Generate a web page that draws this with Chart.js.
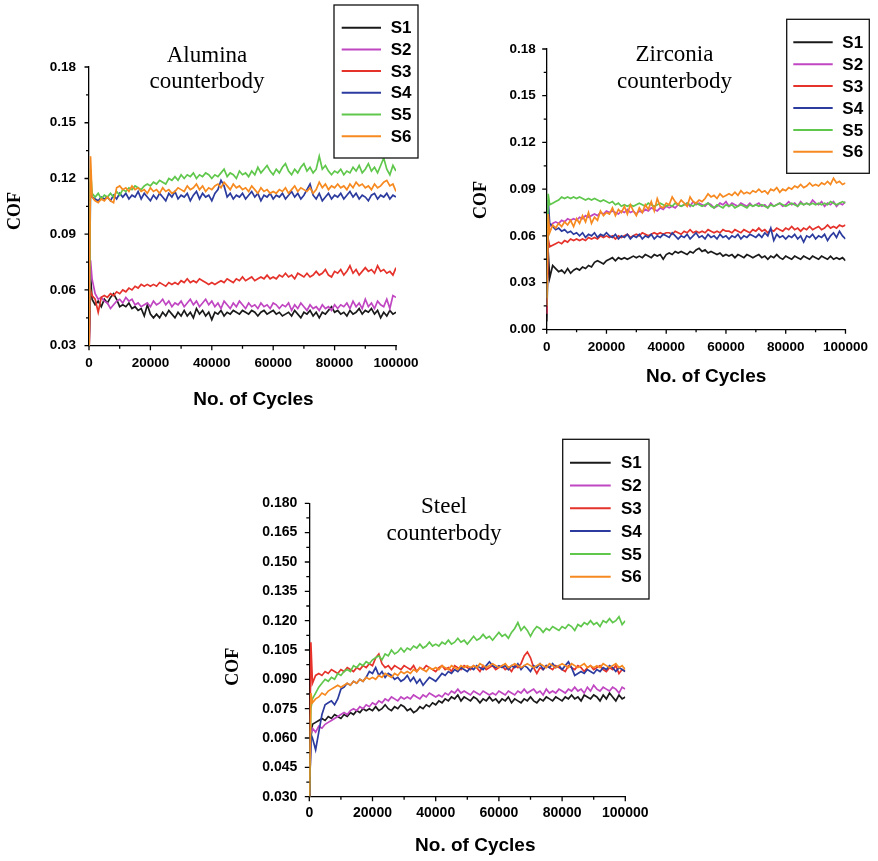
<!DOCTYPE html>
<html>
<head>
<meta charset="utf-8">
<title>COF vs. number of cycles</title>
<script src="https://cdn.jsdelivr.net/npm/chart.js@4.4.1/dist/chart.umd.min.js"></script>
<style>
  html, body { margin: 0; padding: 0; background: #fff; }
  #page { position: relative; width: 878px; height: 861px; overflow: hidden; }
  #page canvas { position: absolute; }
</style>
</head>
<body>
<div id="page">
  <canvas id="alumina" width="430" height="420" style="left:0;top:0"></canvas>
  <canvas id="zirconia" width="438" height="400" style="left:440px;top:0"></canvas>
  <canvas id="steel" width="440" height="431" style="left:220px;top:430px"></canvas>
</div>
<script>
// sampling positions (cycles) shared by every curve
const cycles = [0, 500, 1000,
  2000, 3000, 4000, 5000, 6000, 7000, 8000, 9000, 10000,
  11000, 12000, 13000, 14000, 15000, 16000, 17000, 18000, 19000, 20000,
  21000, 22000, 23000, 24000, 25000, 26000, 27000, 28000, 29000, 30000,
  31000, 32000, 33000, 34000, 35000, 36000, 37000, 38000, 39000, 40000,
  41000, 42000, 43000, 44000, 45000, 46000, 47000, 48000, 49000, 50000,
  51000, 52000, 53000, 54000, 55000, 56000, 57000, 58000, 59000, 60000,
  61000, 62000, 63000, 64000, 65000, 66000, 67000, 68000, 69000, 70000,
  71000, 72000, 73000, 74000, 75000, 76000, 77000, 78000, 79000, 80000,
  81000, 82000, 83000, 84000, 85000, 86000, 87000, 88000, 89000, 90000,
  91000, 92000, 93000, 94000, 95000, 96000, 97000, 98000, 99000, 100000];

const seriesNames = ['S1', 'S2', 'S3', 'S4', 'S5', 'S6'];
const seriesColors = ['#1a1a1a', '#c046c2', '#e5322b', '#2b3b9e', '#5fc74b', '#f6891f'];

const xTicks = [0, 20000, 40000, 60000, 80000, 100000];
const yTicksTwoDec = [0.03, 0.06, 0.09, 0.12, 0.15, 0.18];

// ---- Alumina counterbody ----
const aluminaS1 = [0.025, 0.068, 0.055,
  0.052, 0.054, 0.051, 0.055, 0.053, 0.056, 0.058, 0.055, 0.051,
  0.052, 0.051, 0.053, 0.050, 0.051, 0.049, 0.050, 0.046, 0.052, 0.047,
  0.045, 0.047, 0.045, 0.048, 0.046, 0.049, 0.047, 0.045, 0.048, 0.046,
  0.049, 0.046, 0.048, 0.045, 0.050, 0.047, 0.049, 0.046, 0.048, 0.044,
  0.048, 0.047, 0.049, 0.046, 0.048, 0.047, 0.049, 0.048, 0.047, 0.049,
  0.048, 0.047, 0.049, 0.048, 0.046, 0.048, 0.049, 0.047, 0.048, 0.049,
  0.047, 0.048, 0.046, 0.047, 0.048, 0.046, 0.049, 0.047, 0.045, 0.048,
  0.047, 0.049, 0.046, 0.048, 0.045, 0.048, 0.047, 0.049, 0.051, 0.048,
  0.049, 0.047, 0.048, 0.046, 0.049, 0.047, 0.048, 0.050, 0.047, 0.049,
  0.048, 0.050, 0.047, 0.049, 0.045, 0.048, 0.046, 0.049, 0.047, 0.048];
const aluminaS2 = [0.025, 0.076, 0.066,
  0.058, 0.055, 0.056, 0.054, 0.053, 0.050, 0.052, 0.054, 0.055,
  0.053, 0.056, 0.054, 0.055, 0.052, 0.053, 0.051, 0.052, 0.053, 0.051,
  0.054, 0.052, 0.053, 0.055, 0.052, 0.054, 0.051, 0.053, 0.052, 0.054,
  0.051, 0.053, 0.055, 0.052, 0.054, 0.051, 0.053, 0.055, 0.052, 0.054,
  0.051, 0.053, 0.050, 0.054, 0.052, 0.050, 0.053, 0.051, 0.054, 0.052,
  0.050, 0.053, 0.051, 0.052, 0.050, 0.053, 0.051, 0.052, 0.050, 0.053,
  0.052, 0.050, 0.052, 0.051, 0.053, 0.049, 0.052, 0.050, 0.053, 0.051,
  0.049, 0.052, 0.050, 0.051, 0.049, 0.052, 0.050, 0.051, 0.049, 0.052,
  0.050, 0.052, 0.051, 0.053, 0.050, 0.054, 0.051, 0.053, 0.050, 0.055,
  0.051, 0.053, 0.050, 0.054, 0.052, 0.051, 0.055, 0.050, 0.057, 0.056];
const aluminaS3 = [0.025, 0.060, 0.057,
  0.055, 0.048, 0.056, 0.057, 0.056, 0.058, 0.057, 0.059, 0.058,
  0.060, 0.059, 0.061, 0.060, 0.062, 0.061, 0.063, 0.062, 0.063, 0.062,
  0.063, 0.062, 0.064, 0.063, 0.062, 0.064, 0.063, 0.064, 0.063, 0.065,
  0.064, 0.066, 0.064, 0.065, 0.064, 0.066, 0.065, 0.064, 0.063, 0.064,
  0.063, 0.064, 0.065, 0.064, 0.066, 0.065, 0.064, 0.066, 0.065, 0.067,
  0.065, 0.066, 0.067, 0.065, 0.066, 0.067, 0.066, 0.068, 0.066, 0.067,
  0.066, 0.068, 0.067, 0.069, 0.067, 0.068, 0.066, 0.069, 0.068, 0.067,
  0.069, 0.067, 0.068, 0.070, 0.068, 0.069, 0.071, 0.068, 0.067, 0.070,
  0.069, 0.071, 0.068, 0.070, 0.073, 0.069, 0.071, 0.068, 0.070, 0.072,
  0.070, 0.071, 0.069, 0.073, 0.070, 0.071, 0.069, 0.070, 0.068, 0.072];
const aluminaS4 = [0.025, 0.118, 0.110,
  0.109, 0.108, 0.110, 0.109, 0.110, 0.108, 0.111, 0.109, 0.112,
  0.110, 0.112, 0.109, 0.111, 0.110, 0.113, 0.109, 0.112, 0.110, 0.108,
  0.111, 0.109, 0.112, 0.110, 0.108, 0.112, 0.110, 0.113, 0.109, 0.111,
  0.110, 0.112, 0.108, 0.111, 0.113, 0.109, 0.112, 0.110, 0.111, 0.108,
  0.112, 0.114, 0.119, 0.116, 0.110, 0.112, 0.109, 0.111, 0.110, 0.112,
  0.109, 0.111, 0.113, 0.110, 0.112, 0.108, 0.111, 0.110, 0.112, 0.109,
  0.111, 0.110, 0.112, 0.109, 0.111, 0.113, 0.110, 0.112, 0.109, 0.111,
  0.114, 0.117, 0.111, 0.109, 0.112, 0.108, 0.110, 0.112, 0.109, 0.111,
  0.110, 0.112, 0.109, 0.111, 0.113, 0.110, 0.112, 0.109, 0.111, 0.110,
  0.108, 0.111, 0.112, 0.109, 0.111, 0.110, 0.112, 0.109, 0.111, 0.110];
const aluminaS5 = [0.025, 0.125, 0.112,
  0.110, 0.112, 0.109, 0.111, 0.110, 0.112, 0.110, 0.113, 0.111,
  0.114, 0.113, 0.115, 0.114, 0.116, 0.115, 0.114, 0.116, 0.117, 0.116,
  0.118, 0.117, 0.119, 0.118, 0.117, 0.120, 0.119, 0.121, 0.119, 0.122,
  0.120, 0.122, 0.121, 0.123, 0.120, 0.122, 0.121, 0.123, 0.122, 0.120,
  0.122, 0.121, 0.123, 0.125, 0.121, 0.123, 0.122, 0.120, 0.124, 0.122,
  0.123, 0.121, 0.124, 0.122, 0.126, 0.123, 0.125, 0.127, 0.124, 0.122,
  0.125, 0.123, 0.126, 0.128, 0.124, 0.122, 0.125, 0.123, 0.126, 0.128,
  0.124, 0.126, 0.123, 0.125, 0.132, 0.125, 0.127, 0.124, 0.122, 0.124,
  0.123, 0.125, 0.122, 0.124, 0.123, 0.126, 0.124, 0.127, 0.123, 0.125,
  0.128, 0.124, 0.126, 0.123, 0.127, 0.131, 0.125, 0.122, 0.127, 0.124];
const aluminaS6 = [0.025, 0.132, 0.110,
  0.108, 0.107, 0.109, 0.108, 0.110, 0.108, 0.107, 0.115, 0.116,
  0.114, 0.115, 0.113, 0.116, 0.114, 0.115, 0.113, 0.114, 0.112, 0.115,
  0.113, 0.114, 0.112, 0.115, 0.113, 0.114, 0.112, 0.113, 0.115, 0.114,
  0.113, 0.116, 0.114, 0.115, 0.117, 0.114, 0.116, 0.113, 0.115, 0.114,
  0.116, 0.117, 0.115, 0.118, 0.116, 0.114, 0.117, 0.115, 0.116, 0.114,
  0.115, 0.113, 0.116, 0.114, 0.112, 0.115, 0.113, 0.114, 0.112, 0.113,
  0.112, 0.114, 0.113, 0.115, 0.112, 0.114, 0.116, 0.113, 0.115, 0.114,
  0.113, 0.115, 0.112, 0.114, 0.118, 0.115, 0.117, 0.114, 0.116, 0.115,
  0.117, 0.115, 0.116, 0.114, 0.117, 0.115, 0.118, 0.116, 0.117, 0.115,
  0.116, 0.114, 0.117, 0.115, 0.116, 0.118, 0.119, 0.116, 0.117, 0.113];

// ---- Zirconia counterbody ----
const zirconiaS1 = [0.005, 0.050, 0.033,
  0.041, 0.039, 0.037, 0.038, 0.036, 0.039, 0.036, 0.038, 0.039,
  0.038, 0.040, 0.039, 0.041, 0.040, 0.043, 0.044, 0.043, 0.042, 0.044,
  0.045, 0.046, 0.044, 0.046, 0.045, 0.046, 0.045, 0.046, 0.047, 0.046,
  0.047, 0.046, 0.048, 0.047, 0.046, 0.048, 0.047, 0.048, 0.045, 0.048,
  0.049, 0.048, 0.050, 0.049, 0.050, 0.049, 0.048, 0.050, 0.049, 0.051,
  0.052, 0.050, 0.051, 0.049, 0.050, 0.049, 0.048, 0.049, 0.047, 0.048,
  0.047, 0.048, 0.046, 0.048, 0.047, 0.046, 0.048, 0.047, 0.046, 0.047,
  0.048, 0.046, 0.047, 0.045, 0.047, 0.046, 0.048, 0.046, 0.045, 0.047,
  0.046, 0.045, 0.047, 0.046, 0.045, 0.047, 0.046, 0.045, 0.047, 0.046,
  0.045, 0.047, 0.046, 0.045, 0.047, 0.045, 0.046, 0.045, 0.046, 0.044];
const zirconiaS2 = [0.010, 0.070, 0.066,
  0.068, 0.069, 0.068, 0.070, 0.069, 0.071, 0.070, 0.071, 0.070,
  0.072, 0.071, 0.073, 0.072, 0.073, 0.074, 0.073, 0.075, 0.074, 0.076,
  0.075, 0.076, 0.075, 0.074, 0.076, 0.075, 0.077, 0.075, 0.076, 0.074,
  0.076, 0.075, 0.077, 0.076, 0.078, 0.077, 0.076, 0.078, 0.077, 0.079,
  0.078, 0.079, 0.078, 0.080, 0.079, 0.080, 0.081, 0.079, 0.082, 0.080,
  0.081, 0.080, 0.079, 0.081, 0.080, 0.078, 0.079, 0.081, 0.080, 0.082,
  0.079, 0.081, 0.080, 0.079, 0.081, 0.080, 0.079, 0.081, 0.079, 0.080,
  0.081, 0.079, 0.080, 0.078, 0.081, 0.079, 0.080, 0.081, 0.079, 0.080,
  0.082, 0.080, 0.081, 0.079, 0.082, 0.080, 0.081, 0.080, 0.083, 0.081,
  0.080, 0.082, 0.079, 0.081, 0.080, 0.082, 0.079, 0.081, 0.080, 0.082];
const zirconiaS3 = [0.010, 0.058, 0.053,
  0.054, 0.055, 0.056, 0.055, 0.057, 0.056, 0.058, 0.057, 0.058,
  0.057, 0.058, 0.057, 0.059, 0.058, 0.059, 0.058, 0.060, 0.059, 0.060,
  0.059, 0.060, 0.058, 0.060, 0.059, 0.060, 0.061, 0.059, 0.060, 0.061,
  0.060, 0.062, 0.061, 0.060, 0.061, 0.062, 0.061, 0.062, 0.061, 0.062,
  0.062, 0.061, 0.063, 0.062, 0.061, 0.063, 0.062, 0.064, 0.062, 0.063,
  0.062, 0.063, 0.062, 0.064, 0.063, 0.062, 0.063, 0.062, 0.064, 0.063,
  0.063, 0.062, 0.064, 0.063, 0.062, 0.064, 0.063, 0.062, 0.064, 0.063,
  0.065, 0.063, 0.064, 0.062, 0.064, 0.063, 0.065, 0.064, 0.063, 0.065,
  0.064, 0.066, 0.064, 0.065, 0.063, 0.065, 0.064, 0.066, 0.064, 0.065,
  0.066, 0.064, 0.065, 0.067, 0.065, 0.066, 0.065, 0.067, 0.066, 0.067];
const zirconiaS4 = [0.015, 0.083, 0.068,
  0.066, 0.064, 0.065, 0.063, 0.064, 0.062, 0.063, 0.061, 0.062,
  0.060, 0.062, 0.059, 0.061, 0.060, 0.062, 0.059, 0.061, 0.060, 0.062,
  0.060, 0.059, 0.061, 0.058, 0.060, 0.059, 0.061, 0.058, 0.060, 0.059,
  0.061, 0.058, 0.060, 0.059, 0.061, 0.058, 0.060, 0.059, 0.061, 0.060,
  0.059, 0.062, 0.060, 0.058, 0.060, 0.059, 0.061, 0.058, 0.060, 0.062,
  0.059, 0.060, 0.058, 0.061, 0.059, 0.060, 0.058, 0.061, 0.059, 0.060,
  0.058, 0.060, 0.059, 0.061, 0.058, 0.060, 0.059, 0.061, 0.060, 0.059,
  0.061, 0.059, 0.062, 0.060, 0.065, 0.057, 0.061, 0.059, 0.060, 0.058,
  0.060, 0.059, 0.061, 0.058, 0.060, 0.056, 0.060, 0.059, 0.061, 0.058,
  0.060, 0.059, 0.061, 0.057, 0.060, 0.062, 0.059, 0.063, 0.060, 0.058];
const zirconiaS5 = [0.020, 0.087, 0.080,
  0.081, 0.082, 0.083, 0.085, 0.084, 0.085, 0.084, 0.085, 0.084,
  0.085, 0.084, 0.083, 0.084, 0.083, 0.084, 0.083, 0.082, 0.083, 0.082,
  0.081, 0.082, 0.080, 0.081, 0.079, 0.080, 0.079, 0.080, 0.079, 0.080,
  0.081, 0.080, 0.079, 0.081, 0.080, 0.079, 0.080, 0.081, 0.080, 0.079,
  0.080, 0.079, 0.081, 0.080, 0.079, 0.080, 0.081, 0.080, 0.079, 0.081,
  0.080, 0.079, 0.080, 0.081, 0.079, 0.078, 0.080, 0.079, 0.078, 0.080,
  0.079, 0.080, 0.078, 0.079, 0.080, 0.079, 0.078, 0.080, 0.079, 0.080,
  0.079, 0.080, 0.079, 0.078, 0.080, 0.079, 0.080, 0.081, 0.080, 0.079,
  0.080, 0.081, 0.080, 0.079, 0.081, 0.080, 0.081, 0.080, 0.081, 0.080,
  0.081, 0.080, 0.081, 0.080, 0.082, 0.081, 0.080, 0.081, 0.082, 0.081];
const zirconiaS6 = [0.015, 0.074, 0.062,
  0.067, 0.065, 0.068, 0.066, 0.069, 0.067, 0.070, 0.066, 0.071,
  0.068, 0.073, 0.069, 0.075, 0.068, 0.072, 0.070, 0.076, 0.073, 0.075,
  0.074, 0.078, 0.073, 0.077, 0.075, 0.079, 0.074, 0.080, 0.076, 0.073,
  0.078, 0.075, 0.080, 0.077, 0.082, 0.076, 0.084, 0.079, 0.078, 0.081,
  0.080, 0.085, 0.082, 0.080, 0.083, 0.081, 0.079, 0.085, 0.082, 0.081,
  0.083, 0.082, 0.084, 0.087, 0.085, 0.086, 0.084, 0.087, 0.085, 0.086,
  0.087, 0.086, 0.088, 0.086, 0.089, 0.087, 0.088, 0.087, 0.089, 0.088,
  0.090, 0.088, 0.089, 0.087, 0.090, 0.089, 0.091, 0.088, 0.090, 0.089,
  0.091, 0.090, 0.092, 0.091, 0.093, 0.091, 0.092, 0.094, 0.092, 0.093,
  0.092, 0.094, 0.093, 0.095, 0.093, 0.097, 0.094, 0.095, 0.093, 0.094];

// ---- Steel counterbody ----
const steelS1 = [0.025, 0.060, 0.067,
  0.068, 0.069, 0.070, 0.069, 0.071, 0.070, 0.072, 0.071, 0.070,
  0.072, 0.071, 0.073, 0.072, 0.074, 0.073, 0.075, 0.074, 0.075, 0.074,
  0.076, 0.074, 0.075, 0.077, 0.075, 0.074, 0.076, 0.075, 0.077, 0.076,
  0.074, 0.075, 0.073, 0.074, 0.076, 0.075, 0.077, 0.076, 0.078, 0.077,
  0.079, 0.078, 0.080, 0.079, 0.081, 0.080, 0.082, 0.079, 0.081, 0.080,
  0.079, 0.081, 0.080, 0.078, 0.080, 0.079, 0.081, 0.079, 0.080, 0.078,
  0.080, 0.079, 0.081, 0.078, 0.080, 0.079, 0.078, 0.080, 0.079, 0.081,
  0.079, 0.078, 0.080, 0.079, 0.081, 0.080, 0.079, 0.081, 0.080, 0.079,
  0.081, 0.080, 0.082, 0.080, 0.081, 0.079, 0.082, 0.081, 0.080, 0.082,
  0.081, 0.079, 0.082, 0.080, 0.083, 0.081, 0.079, 0.082, 0.080, 0.081];
const steelS2 = [0.025, 0.062, 0.065,
  0.063, 0.066, 0.065, 0.067, 0.068, 0.069, 0.070, 0.071, 0.072,
  0.073, 0.072, 0.074, 0.075, 0.074, 0.076, 0.075, 0.077, 0.076, 0.078,
  0.077, 0.079, 0.078, 0.080, 0.079, 0.081, 0.080, 0.079, 0.081, 0.080,
  0.081, 0.080, 0.082, 0.081, 0.080, 0.082, 0.081, 0.083, 0.082, 0.081,
  0.082, 0.081, 0.083, 0.082, 0.084, 0.083, 0.085, 0.083, 0.084, 0.083,
  0.082, 0.084, 0.083, 0.082, 0.084, 0.083, 0.082, 0.083, 0.082, 0.084,
  0.083, 0.082, 0.084, 0.083, 0.082, 0.084, 0.083, 0.085, 0.083, 0.084,
  0.085, 0.083, 0.084, 0.082, 0.085, 0.083, 0.084, 0.083, 0.085, 0.084,
  0.083, 0.085, 0.084, 0.086, 0.084, 0.085, 0.083, 0.086, 0.084, 0.087,
  0.085, 0.084, 0.086, 0.085, 0.084, 0.086, 0.085, 0.083, 0.086, 0.085];
const steelS3 = [0.025, 0.109, 0.088,
  0.092, 0.093, 0.092, 0.094, 0.093, 0.095, 0.094, 0.093, 0.095,
  0.094, 0.096, 0.095, 0.094, 0.096, 0.095, 0.097, 0.096, 0.098, 0.097,
  0.101, 0.103, 0.098, 0.096, 0.097, 0.095, 0.097, 0.096, 0.095, 0.097,
  0.096, 0.095, 0.097, 0.094, 0.096, 0.095, 0.097, 0.096, 0.095, 0.094,
  0.096, 0.097, 0.095, 0.096, 0.094, 0.097, 0.096, 0.095, 0.097, 0.096,
  0.095, 0.097, 0.096, 0.094, 0.097, 0.095, 0.096, 0.097, 0.095, 0.096,
  0.097, 0.095, 0.096, 0.094, 0.097, 0.096, 0.098, 0.102, 0.104, 0.101,
  0.096, 0.093, 0.096, 0.095, 0.097, 0.096, 0.095, 0.097, 0.096, 0.095,
  0.094, 0.097, 0.096, 0.095, 0.097, 0.096, 0.094, 0.096, 0.097, 0.095,
  0.096, 0.097, 0.095, 0.094, 0.096, 0.095, 0.097, 0.093, 0.095, 0.094];
const steelS4 = [0.025, 0.062, 0.060,
  0.054, 0.063, 0.072, 0.077, 0.078, 0.079, 0.077, 0.080, 0.085,
  0.086, 0.088, 0.087, 0.089, 0.088, 0.090, 0.089, 0.091, 0.094, 0.093,
  0.096, 0.092, 0.094, 0.091, 0.093, 0.092, 0.090, 0.091, 0.089, 0.090,
  0.092, 0.089, 0.091, 0.088, 0.090, 0.087, 0.089, 0.091, 0.090, 0.089,
  0.091, 0.093, 0.092, 0.094, 0.093, 0.095, 0.094, 0.096, 0.095, 0.094,
  0.096, 0.095, 0.097, 0.096, 0.095, 0.097, 0.099, 0.097, 0.096, 0.097,
  0.096, 0.097, 0.095, 0.097, 0.096, 0.098, 0.095, 0.097, 0.096, 0.094,
  0.097, 0.096, 0.098, 0.095, 0.097, 0.096, 0.098, 0.096, 0.097, 0.095,
  0.097, 0.099, 0.096, 0.092, 0.093, 0.094, 0.093, 0.095, 0.094, 0.093,
  0.095, 0.094, 0.096, 0.095, 0.097, 0.096, 0.094, 0.096, 0.095, 0.094];
const steelS5 = [0.025, 0.075, 0.080,
  0.083, 0.086, 0.088, 0.090, 0.089, 0.091, 0.090, 0.093, 0.092,
  0.094, 0.095, 0.094, 0.097, 0.096, 0.098, 0.097, 0.099, 0.098, 0.100,
  0.101, 0.102, 0.100, 0.103, 0.102, 0.105, 0.103, 0.104, 0.106, 0.104,
  0.106, 0.105, 0.107, 0.106, 0.108, 0.106, 0.107, 0.109, 0.107, 0.108,
  0.107, 0.109, 0.108, 0.110, 0.108, 0.109, 0.111, 0.109, 0.110, 0.108,
  0.110, 0.112, 0.110, 0.111, 0.113, 0.111, 0.112, 0.110, 0.112, 0.114,
  0.112, 0.113, 0.111, 0.114, 0.116, 0.119, 0.115, 0.117, 0.115, 0.112,
  0.115, 0.117, 0.116, 0.114, 0.116, 0.115, 0.117, 0.116, 0.115, 0.117,
  0.116, 0.118, 0.117, 0.115, 0.118, 0.117, 0.119, 0.118, 0.120, 0.118,
  0.119, 0.117, 0.120, 0.119, 0.121, 0.119, 0.120, 0.122, 0.118, 0.120];
const steelS6 = [0.025, 0.083, 0.078,
  0.080, 0.081, 0.083, 0.082, 0.084, 0.085, 0.086, 0.087, 0.086,
  0.087, 0.088, 0.087, 0.089, 0.088, 0.090, 0.089, 0.091, 0.090, 0.091,
  0.090, 0.092, 0.091, 0.093, 0.092, 0.091, 0.093, 0.092, 0.094, 0.093,
  0.094, 0.093, 0.095, 0.094, 0.096, 0.095, 0.094, 0.096, 0.095, 0.096,
  0.095, 0.097, 0.096, 0.095, 0.097, 0.096, 0.095, 0.097, 0.096, 0.097,
  0.096, 0.097, 0.096, 0.098, 0.097, 0.096, 0.097, 0.098, 0.097, 0.096,
  0.097, 0.098, 0.096, 0.097, 0.098, 0.097, 0.096, 0.097, 0.098, 0.097,
  0.096, 0.097, 0.098, 0.097, 0.096, 0.098, 0.097, 0.096, 0.097, 0.098,
  0.097, 0.096, 0.098, 0.097, 0.096, 0.097, 0.098, 0.096, 0.097, 0.096,
  0.097, 0.096, 0.098, 0.097, 0.096, 0.097, 0.098, 0.096, 0.097, 0.095];

const SANS = '"Liberation Sans", Arial, sans-serif';
const SERIF = '"Liberation Serif", "Times New Roman", serif';

// Draws outward tick marks (with minor ticks), the axis titles,
// the two-line panel caption and the boxed legend.
const panelDecor = {
  id: 'panelDecor',
  afterDraw(chart, args, o) {
    const ctx = chart.ctx;
    const area = chart.chartArea;
    const xs = chart.scales.x;
    const ys = chart.scales.y;
    ctx.save();

    ctx.strokeStyle = '#000';
    ctx.lineWidth = 1.3;
    ctx.beginPath();
    const xv = xs.ticks.map(t => t.value);
    xv.forEach((v, i) => {
      const px = xs.getPixelForValue(v);
      ctx.moveTo(px, area.bottom);
      ctx.lineTo(px, area.bottom + 4.5);
      if (i < xv.length - 1) {
        const m = xs.getPixelForValue((v + xv[i + 1]) / 2);
        ctx.moveTo(m, area.bottom);
        ctx.lineTo(m, area.bottom + 3);
      }
    });
    const yv = ys.ticks.map(t => t.value);
    yv.forEach((v, i) => {
      const py = ys.getPixelForValue(v);
      ctx.moveTo(area.left, py);
      ctx.lineTo(area.left - 4.5, py);
      if (i < yv.length - 1) {
        const m = ys.getPixelForValue((v + yv[i + 1]) / 2);
        ctx.moveTo(area.left, m);
        ctx.lineTo(area.left - 3, m);
      }
    });
    ctx.stroke();

    ctx.fillStyle = '#000';
    // y title
    ctx.save();
    ctx.translate(o.cof.x, o.cof.y);
    ctx.rotate(-Math.PI / 2);
    ctx.font = 'bold 18px ' + SERIF;
    ctx.textAlign = 'center';
    ctx.textBaseline = 'middle';
    ctx.fillText('COF', 0, 0);
    ctx.restore();

    // x title
    ctx.font = 'bold 19px ' + SANS;
    ctx.textAlign = 'center';
    ctx.textBaseline = 'middle';
    ctx.fillText('No. of Cycles', (area.left + area.right) / 2 + o.xTitle.shift, o.xTitle.y);

    // caption
    ctx.font = '23px ' + SERIF;
    ctx.textBaseline = 'alphabetic';
    o.caption.lines.forEach((t, i) => {
      ctx.fillText(t, o.caption.x, o.caption.y[i]);
    });

    // legend
    const L = o.legend;
    ctx.fillStyle = '#fff';
    ctx.fillRect(L.x, L.y, L.w, L.h);
    ctx.strokeStyle = '#111';
    ctx.lineWidth = 1.3;
    ctx.strokeRect(L.x, L.y, L.w, L.h);
    ctx.font = 'bold 17px ' + SANS;
    ctx.textAlign = 'left';
    ctx.textBaseline = 'middle';
    chart.data.datasets.forEach((ds, i) => {
      const ry = L.row0 + i * L.rowGap;
      ctx.strokeStyle = ds.borderColor;
      ctx.lineWidth = 2;
      ctx.beginPath();
      ctx.moveTo(L.line0, ry);
      ctx.lineTo(L.line1, ry);
      ctx.stroke();
      ctx.fillStyle = '#000';
      ctx.fillText(ds.label, L.textX, ry + 1);
    });
    ctx.restore();
  }
};

function makePanel(canvasId, series, p) {
  const datasets = series.map((vals, i) => ({
    label: seriesNames[i],
    data: vals.map((v, k) => ({ x: cycles[k], y: v })),
    borderColor: seriesColors[i],
    borderWidth: 1.7,
    pointRadius: 0,
    tension: 0,
    fill: false,
    order: series.length - i
  }));
  return new Chart(document.getElementById(canvasId), {
    type: 'line',
    data: { datasets },
    plugins: [panelDecor],
    options: {
      responsive: false,
      animation: false,
      events: [],
      layout: { padding: p.padding },
      scales: {
        x: {
          type: 'linear',
          min: 0,
          max: 100000,
          afterFit: s => { s.height = p.xHeight; },
          afterBuildTicks: s => { s.ticks = xTicks.map(v => ({ value: v })); },
          grid: { display: false, drawTicks: false },
          border: { display: true, color: '#000', width: 1.3 },
          ticks: {
            padding: p.xPad,
            maxRotation: 0,
            autoSkip: false,
            color: '#000',
            font: { family: SANS, weight: 'bold', size: p.tickSize },
            callback: v => String(v)
          }
        },
        y: {
          min: p.yTicks[0],
          max: p.yTicks[p.yTicks.length - 1],
          afterFit: s => { s.width = p.yWidth; },
          afterBuildTicks: s => { s.ticks = p.yTicks.map(v => ({ value: v })); },
          grid: { display: false, drawTicks: false },
          border: { display: true, color: '#000', width: 1.3 },
          ticks: {
            padding: p.yPad,
            autoSkip: false,
            color: '#000',
            font: { family: SANS, weight: 'bold', size: p.tickSize },
            callback: v => v.toFixed(p.decimals)
          }
        }
      },
      plugins: {
        legend: { display: false },
        tooltip: { enabled: false },
        panelDecor: p.decor
      }
    }
  });
}

makePanel('alumina',
  [aluminaS1, aluminaS2, aluminaS3, aluminaS4, aluminaS5, aluminaS6], {
    padding: { top: 67, right: 34, bottom: 0, left: 0 },
    yWidth: 89, xHeight: 74.3, xPad: 9, yPad: 13, tickSize: 13.5,
    yTicks: yTicksTwoDec, decimals: 2,
    decor: {
      cof: { x: 15, y: 211 },
      xTitle: { y: 400, shift: 11 },
      caption: { lines: ['Alumina', 'counterbody'], x: 207, y: [61.5, 88] },
      legend: { x: 334, y: 5, w: 84, h: 153, row0: 27.7, rowGap: 21.7, line0: 341.7, line1: 381, textX: 390.7 }
    }
  });

makePanel('zirconia',
  [zirconiaS1, zirconiaS2, zirconiaS3, zirconiaS4, zirconiaS5, zirconiaS6], {
    padding: { top: 49, right: 26, bottom: 0, left: 0 },
    yWidth: 106.7, xHeight: 70.7, xPad: 10, yPad: 11, tickSize: 13.5,
    yTicks: [0.00, 0.03, 0.06, 0.09, 0.12, 0.15, 0.18], decimals: 2,
    decor: {
      cof: { x: 41.7, y: 200 },
      xTitle: { y: 377, shift: 10 },
      caption: { lines: ['Zirconia', 'counterbody'], x: 234.5, y: [61, 88.3] },
      legend: { x: 346.7, y: 19.3, w: 82.6, h: 154, row0: 42.3, rowGap: 21.9, line0: 353.3, line1: 392.7, textX: 402.3 }
    }
  });

makePanel('steel',
  [steelS1, steelS2, steelS3, steelS4, steelS5, steelS6], {
    padding: { top: 73.3, right: 34.7, bottom: 0, left: 0 },
    yWidth: 89.3, xHeight: 64.3, xPad: 8, yPad: 12, tickSize: 14,
    yTicks: [0.030, 0.045, 0.060, 0.075, 0.090, 0.105, 0.120, 0.135, 0.150, 0.165, 0.180], decimals: 3,
    decor: {
      cof: { x: 13.3, y: 236.7 },
      xTitle: { y: 416, shift: 8 },
      caption: { lines: ['Steel', 'counterbody'], x: 224, y: [83.3, 110] },
      legend: { x: 342.7, y: 9.3, w: 86.3, h: 159.7, row0: 32.7, rowGap: 22.8, line0: 350, line1: 390.7, textX: 401 }
    }
  });
</script>
</body>
</html>
